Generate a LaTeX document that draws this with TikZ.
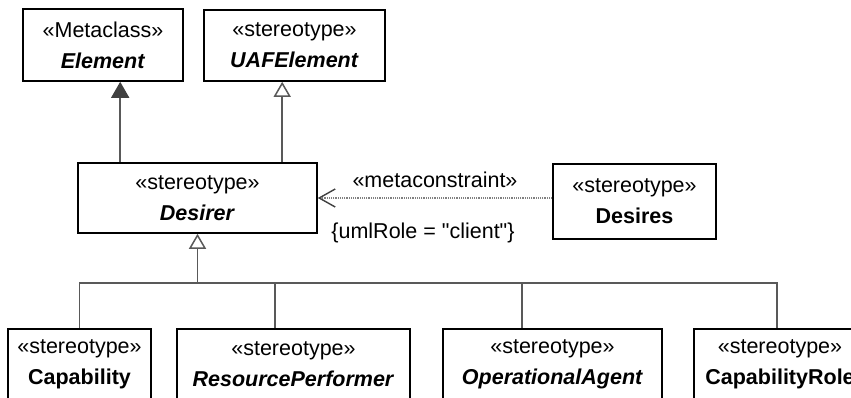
\documentclass[tikz,border=0pt]{standalone}
\usepackage{fontspec}
\setmainfont{Liberation Sans}[Ligatures=TeXOff]
\usetikzlibrary{arrows.meta,calc}
\definecolor{linegray}{HTML}{595959}
\definecolor{headgray}{HTML}{404040}
\definecolor{dotgray}{HTML}{808080}
\begin{document}
\begin{tikzpicture}[x=1pt,y=-1pt,
  box/.style={draw=black, line width=1.6pt, fill=white, align=center, inner sep=0pt,
    font=\fontsize{21.5}{31}\selectfont},
  lbl/.style={inner sep=0pt, font=\fontsize{21.5}{26}\selectfont},
  gen/.style={draw=linegray, line width=1.5pt},
  genopen/.style={gen, -{Triangle[open, length=15pt, width=17pt, line width=1.5pt]}},
  genfill/.style={gen, -{Triangle[length=16pt, width=18pt, fill=headgray, color=headgray]}},
  meta/.style={draw=dotgray, line width=1.2pt, densely dotted,
    -{Straight Barb[length=16pt, width=18pt, line width=1.4pt, color=headgray]}}
]
\clip (0,0) rectangle (851,398);
\fill[white] (0,0) rectangle (851,398);

\node[box, minimum width=160pt, minimum height=72pt] (Element) at (103,45)
  {«Metaclass»\\\textbf{\textit{Element}}};
\node[box, minimum width=181pt, minimum height=71pt] (UAF) at (294.5,45.5)
  {«stereotype»\\\textbf{\textit{UAFElement}}};
\node[box, minimum width=239pt, minimum height=70pt] (Desirer) at (197.5,198)
  {«stereotype»\\\textbf{\textit{Desirer}}};
\node[box, minimum width=163pt, minimum height=75pt] (Desires) at (634.5,201.5)
  {«stereotype»\\\textbf{Desires}};

\node[box, minimum width=143pt, minimum height=70pt] (Cap) at (79.5,364)
  {«stereotype»\\\textbf{Capability}};
\node[box, minimum width=233pt, minimum height=70pt] (RP) at (293.5,364)
  {«stereotype»\\\textbf{\textit{ResourcePerformer}}};
\node[box, minimum width=219pt, minimum height=70pt] (OA) at (552.5,364)
  {«stereotype»\\\textbf{\textit{OperationalAgent}}};
\node[box, minimum width=172pt, minimum height=70pt] (CR) at (780,364)
  {«stereotype»\\\textbf{CapabilityRole}};

% generalizations to Element and UAFElement
\coordinate (dE) at ($(Desirer.north west)+(43,0)$);
\coordinate (dU) at ($(Desirer.north west)+(205,0)$);
\draw[genfill] (dE) -- (dE |- Element.south);
\draw[genopen] (dU) -- (dU |- UAF.south);

% generalization tree
\coordinate (bus) at ($(Desirer.south)+(0,49)$);
\draw[gen] (Cap.north) |- (bus);
\draw[gen] ([xshift=-18.5pt]RP.north) |- (bus);
\draw[gen] ([xshift=-30.5pt]OA.north) |- (bus);
\draw[gen] ([xshift=84pt]CR.north west) |- (bus);
\draw[genopen] (bus) -- (Desirer.south);

% metaconstraint
\draw[meta] (Desirer.east -| Desires.west) -- (Desirer.east);
\node[lbl] (mc) at (435,180) {«metaconstraint»};
\node[lbl] (role) at (423,233) {\{umlRole = "client"\}};
\end{tikzpicture}
\end{document}
